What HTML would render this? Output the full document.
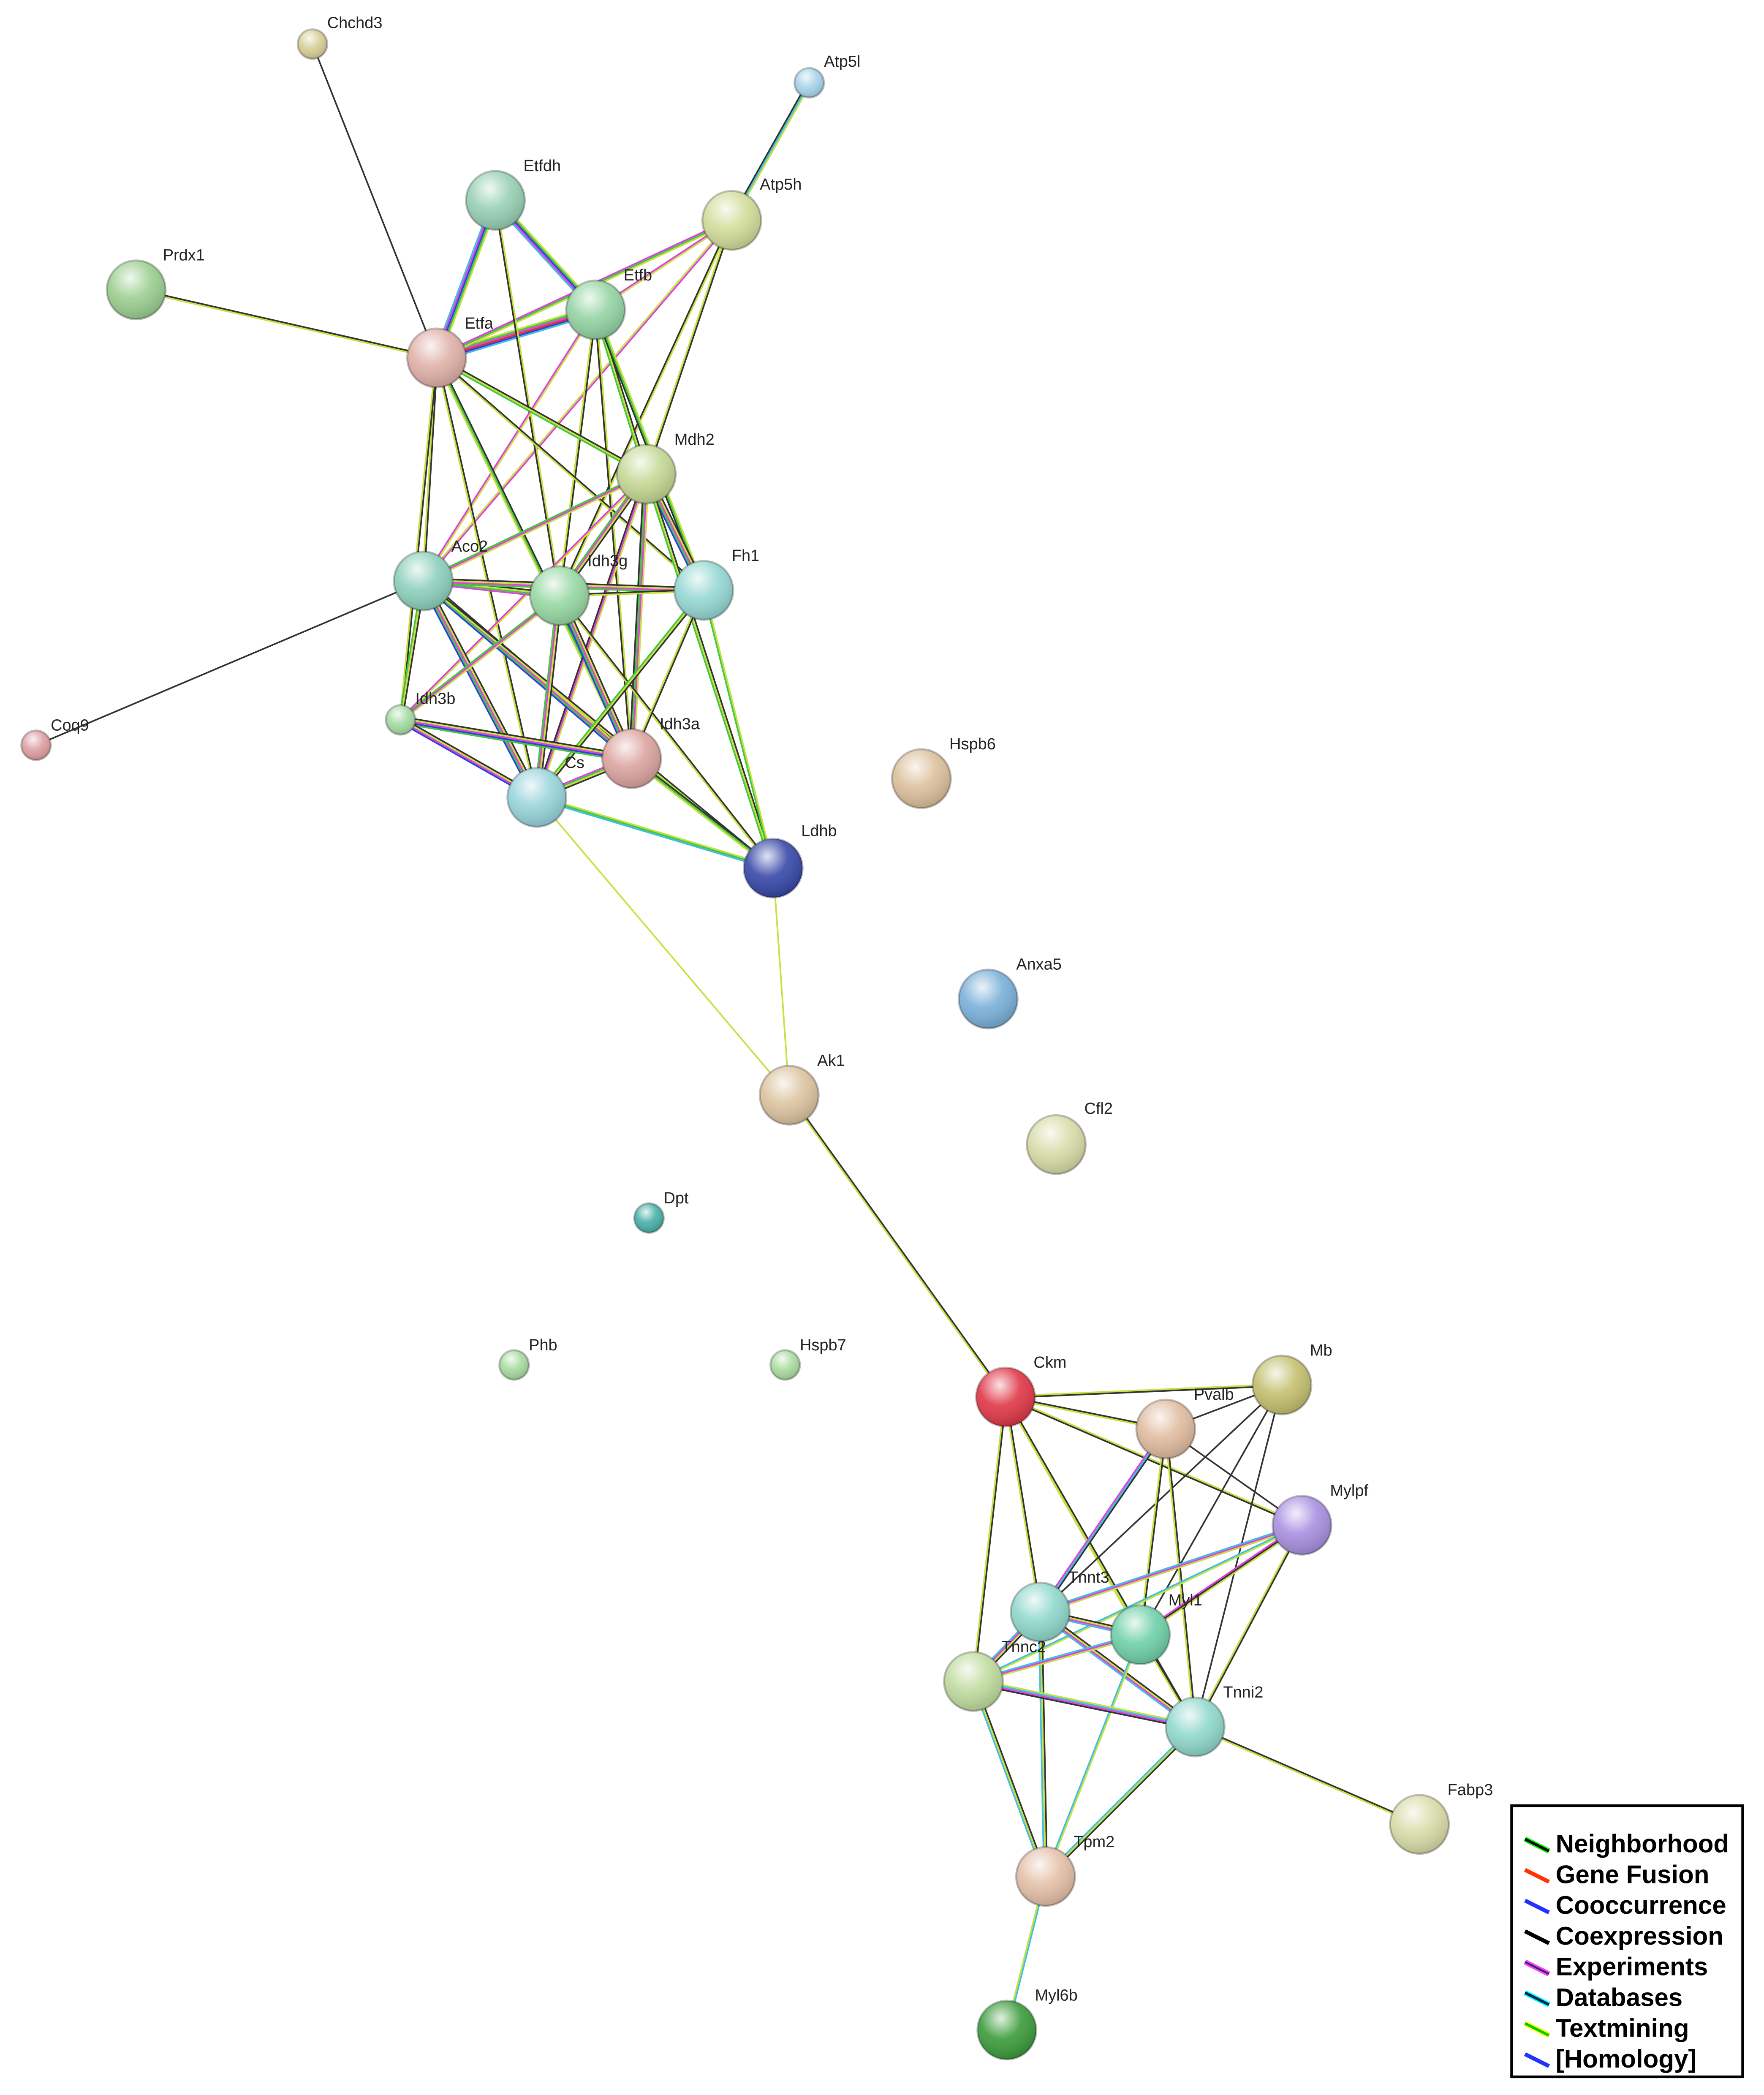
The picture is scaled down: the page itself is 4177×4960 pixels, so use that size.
<!DOCTYPE html>
<html><head><meta charset="utf-8"><style>
html,body{margin:0;padding:0;background:#fff}
svg{display:block}
text{font-family:"Liberation Sans",sans-serif}
</style></head><body>
<svg id="s" width="4177" height="4960" viewBox="0 0 1321 1568.6" xmlns="http://www.w3.org/2000/svg">
<defs>
<radialGradient id="shine" cx="0.4" cy="0.3" r="0.7"><stop offset="0" stop-color="#fff" stop-opacity="0.85"/><stop offset="0.5" stop-color="#fff" stop-opacity="0.1"/><stop offset="1" stop-color="#000" stop-opacity="0.15"/></radialGradient>
</defs>
<rect width="1321" height="1569" fill="#fff"/>
<g id="edges"></g>
<g id="nodes"></g>
<g font-size="12" fill="#222">
<text x="245" y="21">Chchd3</text>
<text x="617" y="50">Atp5l</text>
<text x="392" y="128">Etfdh</text>
<text x="569" y="142">Atp5h</text>
<text x="122" y="195">Prdx1</text>
<text x="467" y="210">Etfb</text>
<text x="348" y="246">Etfa</text>
<text x="505" y="333">Mdh2</text>
<text x="338" y="413">Aco2</text>
<text x="440" y="424">Idh3g</text>
<text x="548" y="420">Fh1</text>
<text x="311" y="527">Idh3b</text>
<text x="38" y="547">Coq9</text>
<text x="494" y="546">Idh3a</text>
<text x="423" y="575">Cs</text>
<text x="711" y="561">Hspb6</text>
<text x="600" y="626">Ldhb</text>
<text x="761" y="726">Anxa5</text>
<text x="612" y="798">Ak1</text>
<text x="812" y="834">Cfl2</text>
<text x="497" y="901">Dpt</text>
<text x="396" y="1011">Phb</text>
<text x="599" y="1011">Hspb7</text>
<text x="774" y="1024">Ckm</text>
<text x="981" y="1015">Mb</text>
<text x="894" y="1048">Pvalb</text>
<text x="996" y="1120">Mylpf</text>
<text x="800" y="1185">Tnnt3</text>
<text x="875" y="1202">Myl1</text>
<text x="750" y="1237">Tnnc2</text>
<text x="916" y="1271">Tnni2</text>
<text x="1084" y="1344">Fabp3</text>
<text x="804" y="1383">Tpm2</text>
<text x="775" y="1498">Myl6b</text>
</g>
<g>
<rect x="1132" y="1352" width="173" height="203" fill="#fff" stroke="#000" stroke-width="2"/>
<g font-size="19" font-family="DejaVu Sans" font-weight="bold" fill="#000">
<text x="1165" y="1387">Neighborhood</text>
<text x="1165" y="1410">Gene Fusion</text>
<text x="1165" y="1433">Cooccurrence</text>
<text x="1165" y="1456">Coexpression</text>
<text x="1165" y="1479">Experiments</text>
<text x="1165" y="1502">Databases</text>
<text x="1165" y="1525">Textmining</text>
<text x="1165" y="1548">[Homology]</text>
</g>
<g stroke-width="3">
<line x1="1142" y1="1377" x2="1160" y2="1386" stroke="#0f0" stroke-width="4"/><line x1="1142" y1="1377" x2="1160" y2="1386" stroke="#000" stroke-width="2"/>
<line x1="1142" y1="1400" x2="1160" y2="1409" stroke="#f30"/>
<line x1="1142" y1="1423" x2="1160" y2="1432" stroke="#23f"/>
<line x1="1142" y1="1446" x2="1160" y2="1455" stroke="#000"/>
<line x1="1142" y1="1469" x2="1160" y2="1478" stroke="#f4f" stroke-width="4"/><line x1="1142" y1="1469" x2="1160" y2="1478" stroke="#427" stroke-width="1.5"/>
<line x1="1142" y1="1492" x2="1160" y2="1501" stroke="#0ff" stroke-width="4"/><line x1="1142" y1="1492" x2="1160" y2="1501" stroke="#025" stroke-width="2"/>
<line x1="1142" y1="1515" x2="1160" y2="1524" stroke="#ff0" stroke-width="4"/><line x1="1142" y1="1515" x2="1160" y2="1524" stroke="#0c0" stroke-width="2"/>
<line x1="1142" y1="1538" x2="1160" y2="1547" stroke="#23f"/>
</g>
</g>
</svg>
<script>
var N={Chchd3:[234,33,11,'#d8cf98'],Atp5l:[606,62,11,'#a8d4ea'],Etfdh:[371,150,22,'#98d0b4'],Atp5h:[548,165,22,'#d2dc9a'],Prdx1:[102,217,22,'#9ccf90'],Etfb:[446,232,22,'#94d4a4'],Etfa:[327,268,22,'#e0b0a8'],Mdh2:[484,355,22,'#c4d894'],Aco2:[317,435,22,'#8ed0bc'],Idh3g:[419,446,22,'#98d8a4'],Fh1:[527,442,22,'#96d8d4'],Idh3b:[300,539,11,'#a4dca4'],Coq9:[27,558,11,'#e0a0a4'],Idh3a:[473,568,22,'#dca4a0'],Cs:[402,597,22,'#98d4dc'],Hspb6:[690,583,22,'#dcc09c'],Ldhb:[579,650,22,'#3848a8'],Anxa5:[740,748,22,'#7ab0d8'],Ak1:[591,820,22,'#dcc4a0'],Cfl2:[791,857,22,'#d8dca8'],Dpt:[486,912,11,'#48b0a8'],Phb:[385,1022,11,'#a8dca0'],Hspb7:[588,1022,11,'#acdca0'],Ckm:[753,1046,22,'#e03848'],Mb:[960,1037,22,'#c4c070'],Pvalb:[873,1070,22,'#e0bca0'],Mylpf:[975,1142,22,'#a890e0'],Tnnt3:[779,1207,22,'#90d8cc'],Myl1:[854,1224,22,'#70d0a8'],Tnnc2:[729,1259,22,'#c0dca0'],Tnni2:[895,1293,22,'#90d8cc'],Fabp3:[1063,1366,22,'#d8dca8'],Tpm2:[783,1405,22,'#e4c0a8'],Myl6b:[754,1520,22,'#3c9c3c']};
var C={k:'#333',y:'#c8e040',g:'#40c840',m:'#e040e0',b:'#3040e0',c:'#40c0e0',r:'#e03020'};
var E="Chchd3-Etfa:k Atp5l-Atp5h:yck Prdx1-Etfa:ky Etfdh-Etfa:ygbmc Etfdh-Etfb:ygbmc Etfa-Etfb:ygmrbc Atp5h-Etfb:ym Atp5h-Etfa:ygm Atp5h-Mdh2:ky Atp5h-Aco2:my Atp5h-Idh3g:yk Etfdh-Idh3g:yk Etfb-Mdh2:kyg Etfb-Idh3g:ky Etfb-Aco2:ym Etfb-Fh1:ygk Etfb-Idh3a:yk Etfa-Aco2:ky Etfa-Idh3b:ky Etfa-Cs:ky Etfa-Idh3a:kgy Etfa-Mdh2:kyg Etfa-Fh1:ky Mdh2-Aco2:ymg Mdh2-Idh3g:kymg Mdh2-Fh1:kymgb Mdh2-Cs:ymk Mdh2-Idh3a:ymgk Mdh2-Ldhb:kyg Mdh2-Idh3b:ym Aco2-Idh3g:kygm Aco2-Fh1:kymg Aco2-Idh3b:kyg Aco2-Idh3a:kymgb Aco2-Cs:kymgb Aco2-Coq9:k Aco2-Ldhb:ky Idh3g-Fh1:ky Idh3g-Idh3b:ymg Idh3g-Idh3a:kymgb Idh3g-Cs:kymg Idh3g-Ldhb:ky Fh1-Idh3a:ky Fh1-Cs:kyg Fh1-Ldhb:yg Idh3b-Idh3a:kymbg Idh3b-Cs:kymb Idh3a-Cs:kygm Idh3a-Ldhb:kgy Cs-Ldhb:ygc Cs-Ak1:y Ldhb-Ak1:y Ak1-Ckm:ky Ckm-Mb:yk Ckm-Pvalb:ky Ckm-Mylpf:yk Ckm-Tnnt3:ky Ckm-Myl1:ky Ckm-Tnnc2:ky Ckm-Tnni2:ky Mb-Pvalb:k Mb-Tnnt3:k Mb-Myl1:k Mb-Tnni2:k Pvalb-Tnnt3:kcm Pvalb-Myl1:ky Pvalb-Tnni2:ky Pvalb-Mylpf:k Mylpf-Tnnt3:ymc Mylpf-Myl1:ykm Mylpf-Tnnc2:yc Mylpf-Tnni2:ky Tnnt3-Myl1:kymc Tnnt3-Tnnc2:kymc Tnnt3-Tnni2:kymc Tnnt3-Tpm2:kyc Myl1-Tnnc2:ymc Myl1-Tnni2:ky Myl1-Tpm2:yc Tnnc2-Tnni2:ycmk Tnnc2-Tpm2:kyc Tnni2-Tpm2:kyc Tnni2-Fabp3:ky Tpm2-Myl6b:cy";
var ns="http://www.w3.org/2000/svg",eg=document.getElementById('edges'),ng=document.getElementById('nodes');
E.split(' ').forEach(function(s){var p=s.split(':'),ab=p[0].split('-'),a=N[ab[0]],b=N[ab[1]],t=p[1];
var dx=b[0]-a[0],dy=b[1]-a[1],L=Math.hypot(dx,dy),px=-dy/L,py=dx/L,w=1.2;
for(var i=0;i<t.length;i++){var o=(i-(t.length-1)/2)*w;var l=document.createElementNS(ns,'line');
l.setAttribute('x1',a[0]+px*o);l.setAttribute('y1',a[1]+py*o);l.setAttribute('x2',b[0]+px*o);l.setAttribute('y2',b[1]+py*o);
l.setAttribute('stroke',C[t[i]]);l.setAttribute('stroke-width',1.2);eg.appendChild(l);}});
for(var k in N){var n=N[k];var c=document.createElementNS(ns,'circle');c.setAttribute('cx',n[0]);c.setAttribute('cy',n[1]);c.setAttribute('r',n[2]);c.setAttribute('fill',n[3]);c.setAttribute('stroke','rgba(0,0,0,0.25)');c.setAttribute('stroke-width',1.5);ng.appendChild(c);
var h=document.createElementNS(ns,'circle');h.setAttribute('cx',n[0]);h.setAttribute('cy',n[1]);h.setAttribute('r',n[2]);h.setAttribute('fill','url(#shine)');ng.appendChild(h);}
</script>
</body></html>
